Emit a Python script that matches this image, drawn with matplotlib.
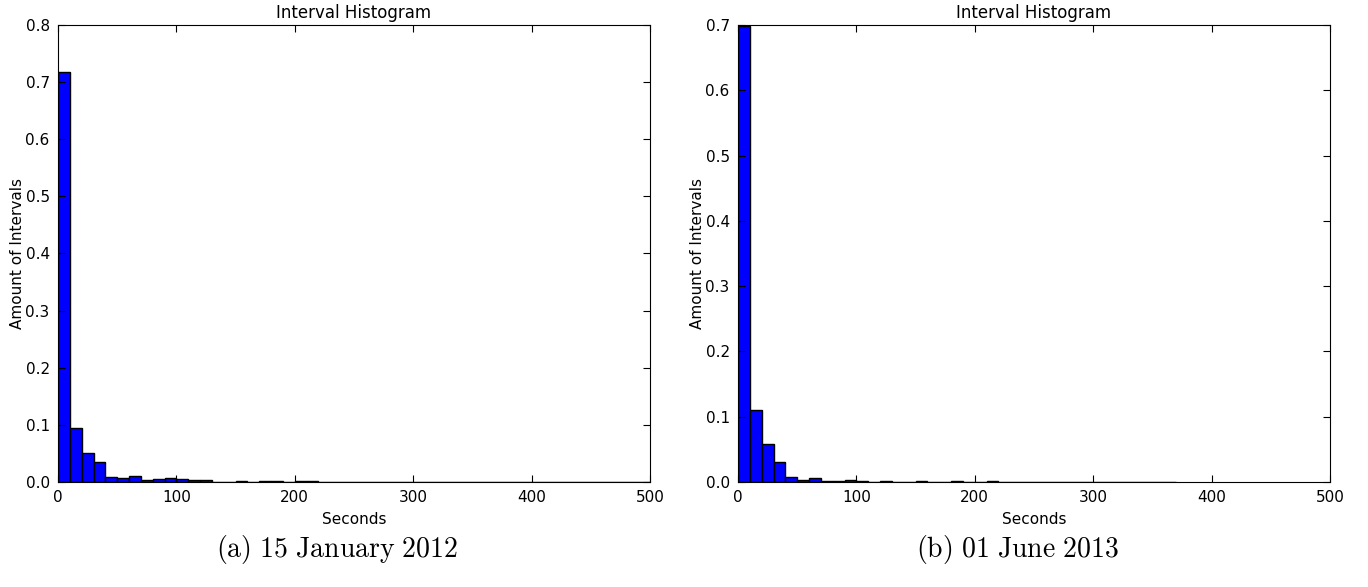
import numpy as np
import matplotlib
matplotlib.use("Agg")
import matplotlib.pyplot as plt

# bin width in seconds
bin_width = 10

# normalized histogram heights, one per 10 s bin
jan_2012 = [0.718, 0.094, 0.051, 0.035, 0.0095, 0.0077, 0.0112, 0.0035, 0.005, 0.0077,
            0.005, 0.0027, 0.0027, 0.0005, 0.0005, 0.0012, 0.0005, 0.001, 0.002, 0.0005,
            0.001, 0.001, 0.0005, 0.0005, 0.0005, 0.0, 0.0, 0.0, 0.0, 0.0,
            0.0005, 0.0, 0.0, 0.0, 0.0, 0.0, 0.0, 0.0, 0.0, 0.0,
            0.0, 0.0, 0.0, 0.0003, 0.0003, 0.0003, 0.0003, 0.0003, 0.0005, 0.0005]
jun_2013 = [0.699, 0.110, 0.058, 0.030, 0.0083, 0.0038, 0.006, 0.0015, 0.0015, 0.0026,
            0.0012, 0.0003, 0.0015, 0.0003, 0.0003, 0.0015, 0.0003, 0.0003, 0.0015, 0.0003,
            0.0005, 0.001, 0.0005, 0.0005, 0.0005, 0.0, 0.0, 0.0005, 0.0, 0.0005,
            0.0005, 0.0005, 0.0005, 0.0005, 0.0, 0.0, 0.0005]

panels = [
    (jan_2012, 0.8, r"$\mathrm{(a)\ 15\ January\ 2012}$"),
    (jun_2013, 0.7, r"$\mathrm{(b)\ 01\ June\ 2013}$"),
]

plt.rcParams["mathtext.fontset"] = "cm"
plt.rcParams["font.family"] = "DejaVu Sans"

fig = plt.figure(figsize=(13.68, 5.87), dpi=100)
lefts = [0.0424, 0.5395]

for left, (heights, ytop, caption) in zip(lefts, panels):
    ax = fig.add_axes([left, 0.1789, 0.4327, 0.7785])
    x = np.arange(len(heights)) * bin_width
    ax.bar(x, heights, width=bin_width, align="edge",
           color="#0000ff", edgecolor="black", linewidth=1.0)
    ax.set_xlim(0, 500)
    ax.set_ylim(0, ytop)
    ax.set_xticks(np.arange(0, 501, 100))
    ax.set_yticks(np.arange(0, ytop + 0.01, 0.1))
    ax.yaxis.set_major_formatter(matplotlib.ticker.FormatStrFormatter("%.1f"))
    ax.tick_params(direction="in", top=True, right=True, labelsize=11,
                   length=5, pad=6)
    ax.set_title("Interval Histogram", fontsize=12, pad=5)
    ax.set_xlabel("Seconds", fontsize=11, labelpad=5)
    ax.set_ylabel("Amount of Intervals", fontsize=11, labelpad=0)
    cx = left + 0.4327 / 2 - 0.012
    fig.text(cx, 0.064, caption, fontsize=20, ha="center", va="center")

fig.savefig("out.png", dpi=100)
